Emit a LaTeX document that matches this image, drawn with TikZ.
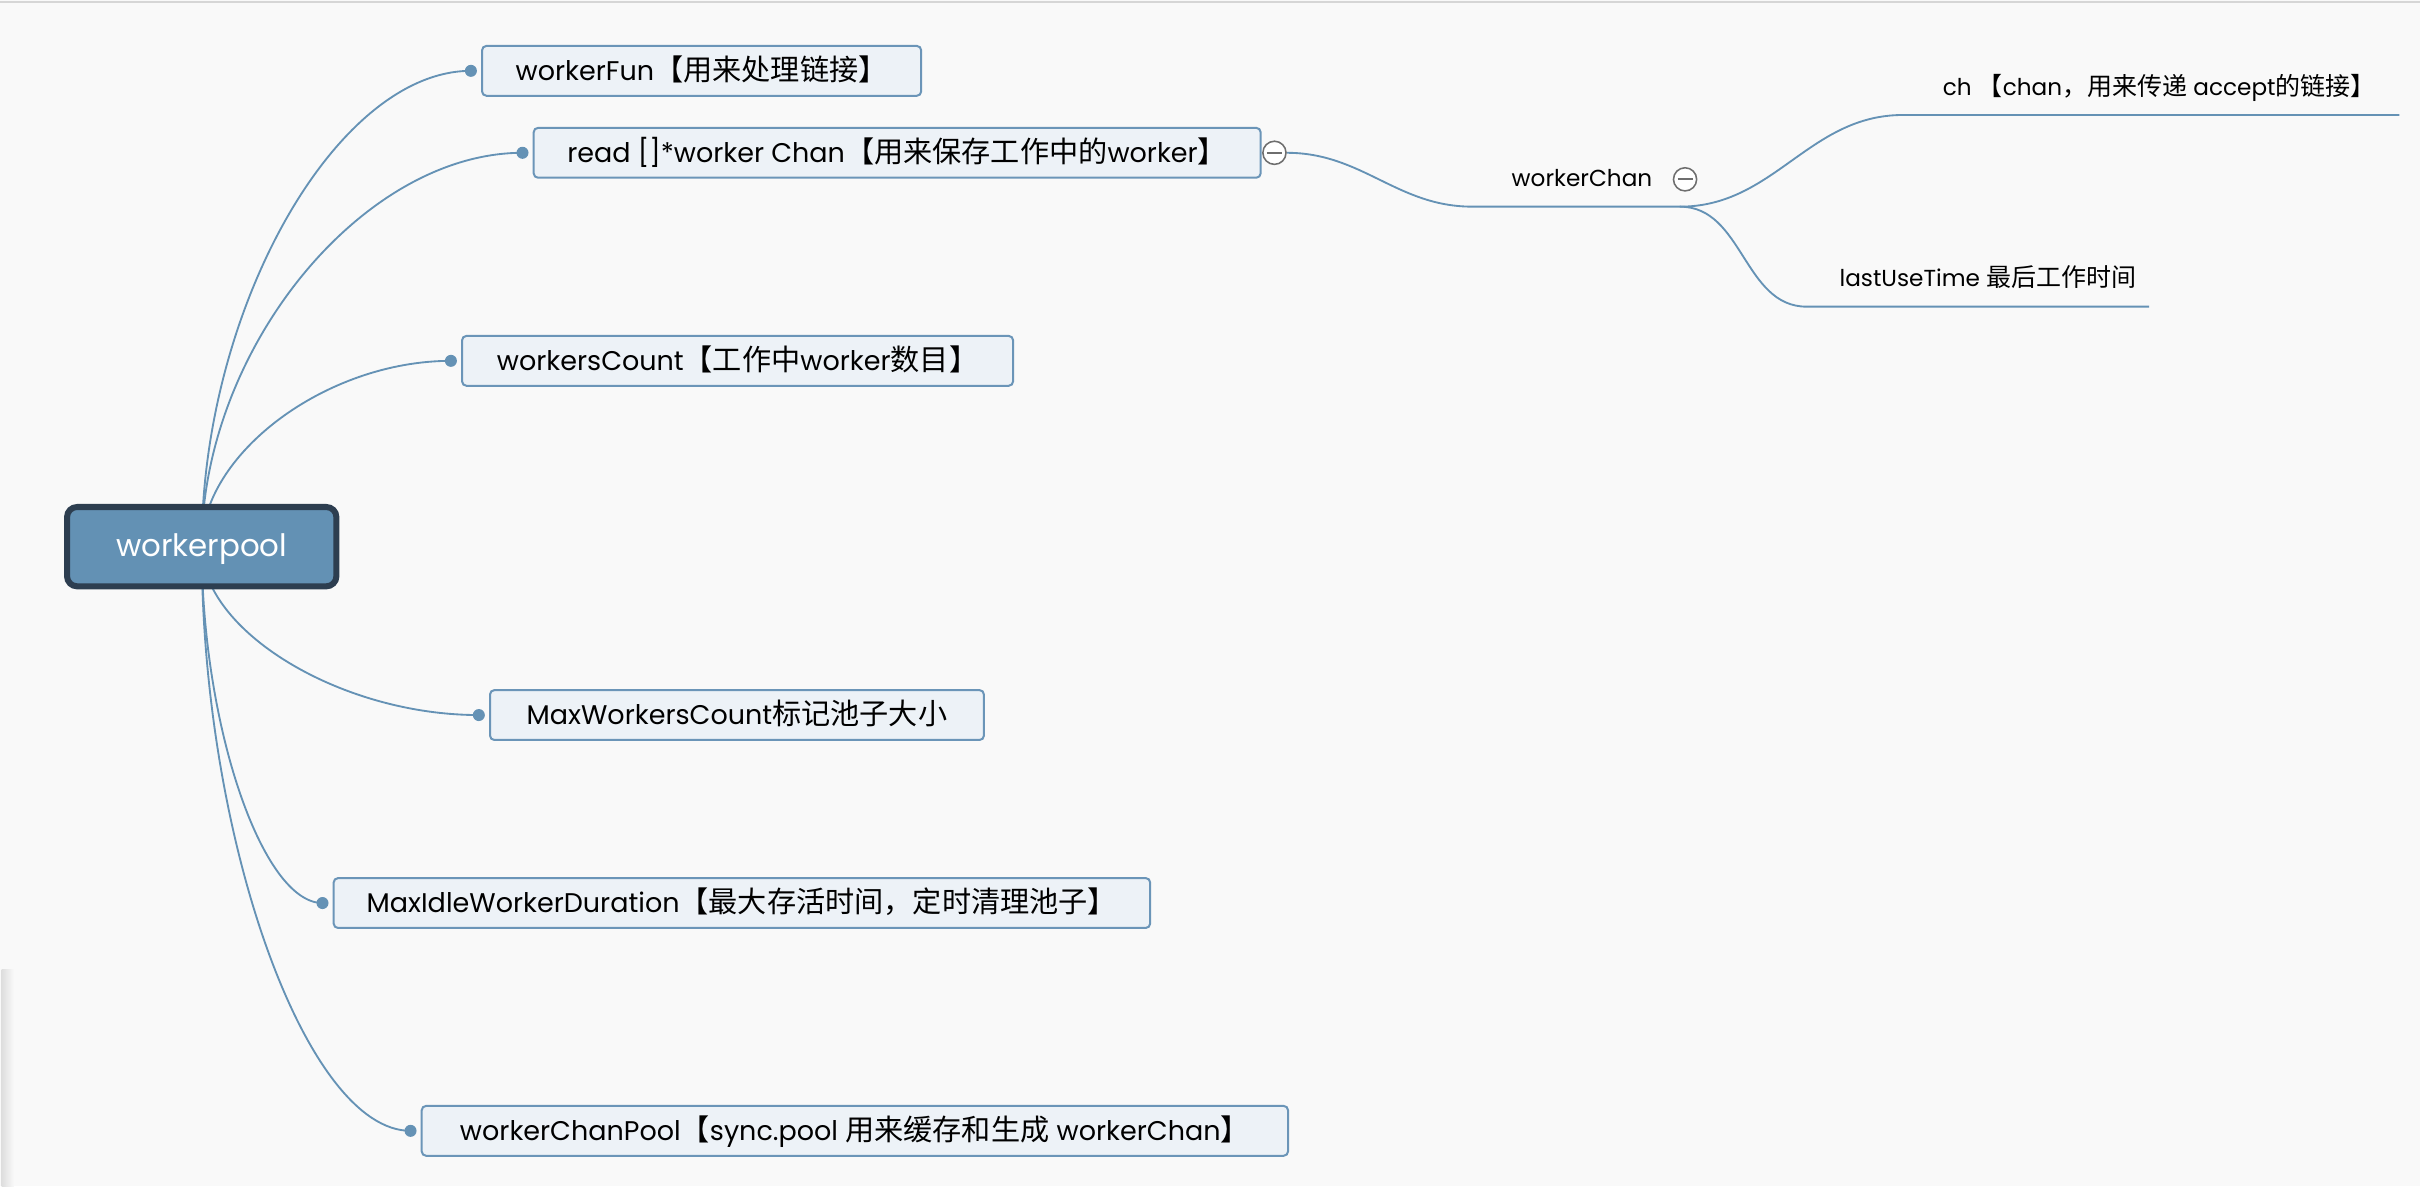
\documentclass[tikz,border=0pt]{standalone}
\usepackage{fontspec}
\setmainfont{Poppins}
\newfontfamily\zh[Scale=1.08]{Noto Sans CJK SC}
\usetikzlibrary{positioning,calc,backgrounds}
\definecolor{pagebg}{HTML}{F9F9F9}
\definecolor{rootfill}{HTML}{6391B4}
\definecolor{rootline}{HTML}{2D3E50}
\definecolor{boxfill}{HTML}{EDF2F7}
\definecolor{boxline}{HTML}{6B95B8}
\definecolor{linkcol}{HTML}{6592B5}
\definecolor{togcol}{HTML}{6E6E6E}

\begin{document}
\begin{tikzpicture}[x=1pt, y=-1pt,
    root/.style={draw=rootline, line width=3.9pt, fill=rootfill, rounded corners=6.5pt,
      text=white, minimum width=174.5pt, minimum height=51.4pt,
      font=\fontsize{20}{24}\selectfont, text height=17pt, text depth=4pt},
    topic/.style={draw=boxline, line width=1.3pt, fill=boxfill, rounded corners=2.8pt,
      minimum height=32.3pt, inner xsep=0pt,
      font=\fontsize{17.5}{21}\selectfont, text height=16pt, text depth=4pt},
    knob/.style={circle, fill=linkcol, inner sep=0pt, minimum size=7.8pt},
    toggle/.style={circle, draw=togcol, line width=1pt, fill=white, inner sep=0pt,
      minimum size=15pt, path picture={\draw[togcol, line width=1.3pt]
        ([xshift=2.6pt]path picture bounding box.west) --
        ([xshift=-2.6pt]path picture bounding box.east);}},
    leaf/.style={anchor=base, inner sep=0pt, font=\fontsize{15}{18}\selectfont},
    link/.style={draw=linkcol, line width=1.2pt}]
    \useasboundingbox (0,0) rectangle (1568,768.5);

    \node[root] (root) at (130.7, 354.2) {workerpool};

    \node[topic, minimum width=284.5pt] (fun) at (454.6, 45.9) {workerFun{\zh 【用来处理链接】}};
    \node[topic, minimum width=471pt] (readq) at (581.3, 99) {read []*worker Chan{\zh 【用来保存工作中的}worker{\zh 】}};
    \node[topic, minimum width=357pt] (count) at (477.9, 233.8) {workersCount{\zh 【工作中}worker{\zh 数目】}};
    \node[topic, minimum width=320pt] (maxc) at (477.5, 463.3) {MaxWorkersCount{\zh 标记池子大小}};
    \node[topic, minimum width=529pt] (idle) at (480.7, 585.1) {MaxIdleWorkerDuration{\zh 【最大存活时间，定时清理池子】}};
    \node[topic, minimum width=561.3pt] (pool) at (553.9, 732.7) {workerChanPool{\zh 【}sync.pool {\zh 用来缓存和生成} workerChan{\zh 】}};

    \node[knob, left=2.5pt of fun] (funK) {};
    \node[knob, left=2.5pt of readq] (readqK) {};
    \node[knob, left=2.5pt of count] (countK) {};
    \node[knob, left=2.5pt of maxc] (maxcK) {};
    \node[knob, left=2.5pt of idle] (idleK) {};
    \node[knob, left=2.5pt of pool] (poolK) {};

    \node[toggle, right=0.3pt of readq] (readqT) {};

    \node[leaf] (wchan) at (1025, 121) {workerChan};
    \node[toggle] (wchanT) at (1091.8, 116.2) {};
    \coordinate (wchanA) at (954, 133.9);
    \coordinate (wchanB) at (1088.5, 133.9);

    \node[leaf] (chL) at (1399, 62) {ch {\zh 【}chan{\zh ，用来传递} accept{\zh 的链接】}};
    \coordinate (chA) at (1233, 74.5);
    \coordinate (chB) at (1554.6, 74.5);

    \node[leaf] (lastL) at (1288, 185.7) {lastUseTime {\zh 最后工作时间}};
    \coordinate (lastA) at (1170.6, 198.7);
    \coordinate (lastB) at (1392.5, 198.7);

    \begin{scope}[on background layer]
      \fill[pagebg] (0,0) rectangle (1568,768.5);
      \draw[black!16, line width=1pt] (0,1.2) -- (1568,1.2);
      \shade[left color=black!13, right color=pagebg] (1,628) rectangle (9,768.5);
      \foreach \k in {funK,readqK,countK,maxcK,idleK,poolK}
        \draw[link] (root.center) .. controls ($(root.center)!.5!(root.center |- \k)$)
          and ($(root.center |- \k)!.5!(\k)$) .. (\k.center);
      \draw[link] (readqT.east) to[out=0, in=180] (wchanA) -- (wchanB);
      \draw[link] (wchanB) to[out=0, in=180] (chA) -- (chB);
      \draw[link] (wchanB) to[out=0, in=180] (lastA) -- (lastB);
    \end{scope}
  \end{tikzpicture}
\end{document}
